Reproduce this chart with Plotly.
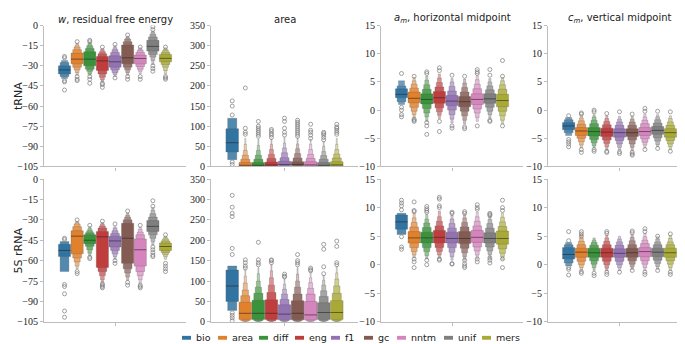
import plotly.graph_objects as go

METHODS = ["bio", "area", "diff", "eng", "f1", "gc", "nntm", "unif", "mers"]
COLORS = ["#3274a1", "#e1812c", "#3a923a", "#c03d3e", "#9372b2",
          "#845b53", "#d684bd", "#7f7f7f", "#a9aa35"]
ROW_LABELS = ["tRNA", "5S rRNA"]
COL_TITLES = ["<i>w</i>, residual free energy", "area",
              "<i>a</i><sub><i>m</i></sub>, horizontal midpoint",
              "<i>c</i><sub><i>m</i></sub>, vertical midpoint"]
Y_RANGES = [[-105, 0], [0, 350], [-10, 15], [-10, 15]]
Y_DTICK = [15, 50, 5, 5]

# ---------------- tRNA: w ----------------
W_TRNA_MED = [-33, -25, -25, -26.3, -27, -24, -24.5, -15.5, -24.4]
W_TRNA_LO = [[-36, -38, -39.5], [-28.5, -31, -33, -35, -37], [-30, -32.5, -34, -36, -37],
             [-33.5, -36, -38.5, -40.5, -42], [-31, -33, -35, -36.5, -38], [-28.5, -31, -33, -35, -37],
             [-28.5, -30.5, -32.5, -34, -36], [-19, -21.5, -23.5, -26, -29], [-27, -29, -31, -33.5, -36]]
W_TRNA_HI = [[-30, -27.5, -26], [-20.5, -18, -16, -14.5, -13], [-19.5, -17, -15, -13.5, -12.5],
             [-23, -21, -19.5, -18, -17], [-22.5, -20, -18, -16.5, -15], [-14.5, -12, -10, -9, -8],
             [-22, -20, -18.5, -17.5, -16.5], [-11, -8.5, -6.5, -5, -4], [-21.5, -20, -18.5, -17.5, -16.5]]
W_TRNA_OUT = [[-23, -24, -41, -42, -48], [-12, -38, -40, -41], [-11, -12, -38, -40, -43],
              [-16, -43, -44, -46], [-14, -39], [-7, -38, -40], [-16, -38, -40],
              [-1, -3, -30, -32, -34], [-16, -38, -39, -40]]

# ---------------- tRNA: area ----------------
AREA_TRNA_MED = [59, 3, 3, 4, 5, 5, 4, 3, 4]
AREA_TRNA_LO = [[36, 17], [1, 0.5, 0.2, 0, 0, 0], [1, 0.5, 0.2, 0, 0, 0], [1, 0.5, 0.2, 0, 0, 0],
                [2, 1, 0.4, 0, 0, 0], [2, 1, 0.4, 0, 0, 0], [1.5, 0.7, 0.3, 0, 0, 0],
                [1, 0.5, 0.2, 0, 0, 0], [1.5, 0.7, 0.3, 0, 0, 0]]
AREA_TRNA_HI = [[94, 120], [10, 18, 28, 40, 55, 70], [10, 18, 28, 40, 52, 68], [11, 20, 30, 42, 55, 68],
                [13, 22, 34, 46, 58, 72], [12, 21, 32, 44, 56, 70], [12, 20, 30, 42, 55, 68],
                [10, 18, 27, 37, 50, 62], [12, 21, 31, 42, 55, 70]]
AREA_TRNA_OUT = [[163, 150, 128, 11, 5], [80, 85, 95, 195], [75, 80, 85, 90, 95, 100, 112],
                 [72, 78, 82, 88, 92], [78, 85, 95, 112, 120], [75, 80, 85, 90, 95, 100, 105, 110, 115],
                 [70, 78, 85, 90, 105], [66, 72, 78, 82, 85], [80, 85, 90, 95, 98, 105]]

# ---------------- tRNA: a_m ----------------
AM_TRNA_MED = [2.8, 2.1, 1.9, 2.2, 1.6, 1.5, 1.9, 2.0, 1.7]
AM_TRNA_LO = [[2.2, 1.5, 1.0], [1.3, 0.5, -0.2, -0.8, -1.3], [1.1, 0.3, -0.5, -1.2, -2],
              [1.2, 0.4, -0.3, -0.9, -1.5], [0.8, 0, -0.8, -1.6, -2.3], [0.6, -0.2, -1, -1.8, -2.5],
              [1, 0.2, -0.5, -1.3, -2], [1.2, 0.5, -0.2, -0.8, -1.4], [0.6, -0.2, -1, -1.8, -2.4]]
AM_TRNA_HI = [[3.8, 4.3, 5.2], [3.2, 3.9, 4.6, 5.2, 5.8], [2.9, 3.7, 4.5, 5.3, 6],
              [3.3, 4.1, 4.9, 5.7, 6.4], [2.6, 3.4, 4.2, 5, 5.6], [2.4, 3.2, 4, 4.8, 5.5],
              [2.9, 3.8, 4.6, 5.4, 6.1], [2.9, 3.6, 4.3, 5, 5.6], [2.8, 3.7, 4.5, 5.2, 5.8]]
AM_TRNA_OUT = [[6.5, 0.5, 0, -0.8, -1.2], [6, -1.6, -1.8, -2], [6.5, 6.8, -2.2, -2.8, -4.3],
               [7, 7.5, -2, -3.8], [6.2, -2.8, -3.2], [6, -3, -3.3], [7.2, 6.8, 6.5, -2.8],
               [7.2, 6.2, -1.8, -2], [8.8, 6, -2.8]]

# ---------------- tRNA: c_m ----------------
CM_TRNA_MED = [-2.8, -3.7, -3.8, -3.9, -4.0, -4.0, -3.8, -3.6, -4.0]
CM_TRNA_LO = [[-3.5, -4, -4.5], [-4.5, -5, -5.6, -6.2, -6.7], [-4.6, -5.2, -5.8, -6.3, -6.7],
              [-4.7, -5.3, -5.9, -6.5, -7], [-4.8, -5.4, -6, -6.6, -7.1], [-4.7, -5.3, -6, -6.6, -7.2],
              [-4.5, -5.1, -5.7, -6.2, -6.7], [-4.3, -4.9, -5.5, -6.1, -6.5], [-4.8, -5.4, -6, -6.5, -7]]
CM_TRNA_HI = [[-2.2, -1.7, -1.3], [-3.1, -2.5, -1.9, -1.4, -1], [-3.1, -2.4, -1.8, -1.2, -0.8],
              [-3.2, -2.6, -2, -1.5, -1], [-3.3, -2.7, -2.1, -1.6, -1.1], [-3.3, -2.7, -2.1, -1.6, -1.1],
              [-3.1, -2.4, -1.8, -1.2, -0.7], [-2.9, -2.3, -1.7, -1.2, -0.8], [-3.3, -2.7, -2.1, -1.5, -1]]
CM_TRNA_OUT = [[-1, -5.2, -5.6, -6, -6.5], [-0.5, -0.7, -7, -7.5], [0, -0.3, -7, -7.3],
               [-0.6, -7.3, -7.5], [-0.3, -7.4, -7.7], [-0.7, -7.5, -7.8, -8], [0.3, -0.2, -7],
               [-0.2, -6.8], [-0.3, -7.3]]

# ---------------- 5S rRNA: w ----------------
W_5S_MED = [-52.5, -42, -45, -42.5, -45.5, -43.5, -52, -34.8, -49.6]
W_5S_LO = [[-57, -68], [-55, -58, -61, -64, -66], [-47.5, -49.5, -52, -54.5, -56.5],
           [-65, -68, -71, -74, -76], [-50, -52.5, -55, -57, -59], [-62, -66, -69, -72, -74.5],
           [-64, -68, -71, -74, -76.5], [-38.5, -41, -43.5, -46, -48.5], [-52.5, -54, -55.5, -57, -59]]
W_5S_HI = [[-48, -46], [-38, -35, -33, -32, -31], [-41, -39.5, -38, -36.5, -35],
           [-38.5, -36, -34.5, -33, -32], [-42, -40, -38, -36, -35], [-32.5, -30, -28, -26.5, -25],
           [-44, -41, -39, -37, -35.5], [-30.5, -28, -25.5, -23, -21], [-47, -45.5, -44, -43, -42]]
W_5S_OUT = [[-43.5, -44.5, -77.5, -79, -84.4, -97, -101.6], [-30, -68, -69.5], [-34, -57.5, -58.5],
            [-31, -77, -78, -79, -80], [-33, -60, -62], [-23.5, -76, -78], [-34, -78, -79, -80],
            [-16, -20, -50, -52, -54, -56, -57], [-41, -62, -64, -66, -68]]

# ---------------- 5S rRNA: area ----------------
AREA_5S_MED = [88, 21, 21, 21, 19, 21, 17, 23, 23]
AREA_5S_LO = [[50, 28], [6, 3, 1.5, 0.8, 0.3, 0], [6, 3, 1.5, 0.8, 0.3, 0], [6, 3, 1.5, 0.8, 0.3, 0],
              [5, 2.5, 1.2, 0.6, 0.3, 0], [5, 2.5, 1.2, 0.6, 0.3, 0], [5, 2.5, 1.2, 0.6, 0.3, 0],
              [6, 3, 1.5, 0.8, 0.3, 0], [6, 3, 1.5, 0.8, 0.3, 0]]
AREA_5S_HI = [[127, 137], [48, 64, 78, 95, 112, 128], [53, 70, 85, 100, 118, 133],
              [54, 72, 90, 108, 125, 140], [42, 55, 68, 80, 92, 104], [52, 68, 85, 100, 117, 133],
              [50, 68, 82, 96, 108, 120], [47, 62, 76, 90, 102, 114], [52, 70, 88, 105, 120, 135]]
AREA_5S_OUT = [[310, 281, 266, 258, 180, 165, 22, 16, 10, 3], [132, 137, 145, 152], [140, 145, 152, 195],
               [145, 150, 152], [110, 112, 117], [140, 145, 150, 165], [125, 128, 132],
               [118, 135, 178, 190], [140, 145, 185, 198]]

# ---------------- 5S rRNA: a_m ----------------
AM_5S_MED = [7.5, 4.7, 4.7, 4.8, 4.6, 4.6, 4.8, 4.6, 4.6]
AM_5S_LO = [[6.2, 5.3], [3.8, 3, 2.3, 1.7, 1.2], [3.8, 3, 2.3, 1.6, 1], [3.8, 3, 2.3, 1.7, 1.2],
            [3.8, 3, 2.2, 1.4, 0.8], [3.7, 2.9, 2.1, 1.4, 0.8], [3.9, 3.1, 2.4, 1.7, 1.1],
            [3.8, 3.1, 2.4, 1.8, 1.2], [3.6, 2.8, 2, 1.4, 0.9]]
AM_5S_HI = [[8.7, 9.0], [5.8, 6.6, 7.4, 8.2, 9], [5.7, 6.5, 7.3, 8, 8.8], [6, 6.8, 7.6, 8.4, 9.4],
            [5.7, 6.4, 7.2, 8, 8.7], [5.8, 6.6, 7.4, 8.2, 8.8], [6, 6.8, 7.6, 8.4, 9.2],
            [5.6, 6.4, 7.2, 7.9, 8.5], [5.9, 6.7, 7.5, 8.3, 9]]
AM_5S_OUT = [[11.3, 10.8, 10.3, 9.6, 4.9, 3.1, 2.7], [11, 9.5, 9.3, 1, 0.5, -0.5],
             [10.2, 9.8, 9.5, 9.2, 0.8, 0], [11.8, 11.5, 10.3, 10, 1, 0.8], [9.2, 9, 0.2, 0.1],
             [9.3, 9, 0.8, 0.2, -0.2, -0.5], [10.5, 10, 9.7, 1, 0.5], [9, 8.8, 8.6, 1.2, 0.8, 0.3],
             [11.3, 10, 9.5, 1, -0.5]]

# ---------------- 5S rRNA: c_m ----------------
CM_5S_MED = [1.8, 2.2, 2.1, 2.1, 2.0, 2.1, 2.3, 2.2, 2.1]
CM_5S_LO = [[1, 0.3, -0.2], [1.3, 0.6, 0, -0.5, -1], [1.3, 0.7, 0.1, -0.5, -1], [1.3, 0.6, 0, -0.6, -1.1],
            [1.3, 0.6, 0, -0.5, -1], [1.3, 0.7, 0.1, -0.4, -0.8], [1.4, 0.7, 0.1, -0.5, -1],
            [1.4, 0.8, 0.2, -0.3, -0.8], [1.3, 0.7, 0.1, -0.5, -1]]
CM_5S_HI = [[3, 3.5, 3.9], [2.9, 3.5, 4.1, 4.7, 5.2], [2.9, 3.4, 3.9, 4.3, 4.7], [2.9, 3.5, 4.1, 4.7, 5.2],
            [2.8, 3.4, 4, 4.5, 5], [2.9, 3.5, 4.2, 4.8, 5.3], [3, 3.7, 4.3, 4.9, 5.5],
            [2.9, 3.5, 4, 4.5, 4.9], [2.9, 3.5, 4, 4.6, 5.1]]
CM_5S_OUT = [[5.8, 4.2, -0.5, -0.8, -1.8], [5.8, 5.4, 5, -1.2, -1.5], [-1.5, -1.9],
             [5.8, 5.5, -1.3, -1.7], [-1.3], [5.9, 5.6, -1], [6.3, 5.8, -1.3, -1.7], [5, -1],
             [5.4, -1.3, -1.7]]

PANELS = [
    [(W_TRNA_MED, W_TRNA_LO, W_TRNA_HI, W_TRNA_OUT),
     (AREA_TRNA_MED, AREA_TRNA_LO, AREA_TRNA_HI, AREA_TRNA_OUT),
     (AM_TRNA_MED, AM_TRNA_LO, AM_TRNA_HI, AM_TRNA_OUT),
     (CM_TRNA_MED, CM_TRNA_LO, CM_TRNA_HI, CM_TRNA_OUT)],
    [(W_5S_MED, W_5S_LO, W_5S_HI, W_5S_OUT),
     (AREA_5S_MED, AREA_5S_LO, AREA_5S_HI, AREA_5S_OUT),
     (AM_5S_MED, AM_5S_LO, AM_5S_HI, AM_5S_OUT),
     (CM_5S_MED, CM_5S_LO, CM_5S_HI, CM_5S_OUT)],
]

# ---------------- layout / style ----------------
W, H = 685, 344
COL_PX = [(36, 178), (203, 350), (373, 515), (540, 683)]
ROW_PX = [(12, 158), (171, 319)]
LEVEL_WIDTH = [1.0, 0.72, 0.5, 0.32, 0.18, 0.08]
LEVEL_LIGHT = [0.0, 0.15, 0.3, 0.45, 0.6, 0.72]
GROUP_W = 0.8
N = len(METHODS)
SLOT = GROUP_W / N
BOX_W = SLOT * 0.97
POS = [-GROUP_W / 2 + SLOT * (i + 0.5) for i in range(N)]
AXIS_COLOR = "#bdbdbd"
SERIF = "Liberation Serif"
SANS = "DejaVu Sans"
LEGEND_SWATCH_X = [174, 210, 251, 287, 323, 356, 389, 436, 474]
LEGEND_Y = 335.5
SWATCH_W, SWATCH_H = 9, 4


def lighten(hexc, t):
    r, g, b = int(hexc[1:3], 16), int(hexc[3:5], 16), int(hexc[5:7], 16)
    r = round(r + (255 - r) * t)
    g = round(g + (255 - g) * t)
    b = round(b + (255 - b) * t)
    return f"rgb({r},{g},{b})"


fig = go.Figure()
layout = {}
annotations = []
shapes = []

for r in range(2):
    for c in range(4):
        k = r * 4 + c + 1
        xs = "x" if k == 1 else f"x{k}"
        ys = "y" if k == 1 else f"y{k}"
        x0, x1 = COL_PX[c]
        y0, y1 = ROW_PX[r]
        layout["xaxis" if k == 1 else f"xaxis{k}"] = dict(
            domain=[x0 / W, x1 / W], anchor=ys, range=[-0.5, 0.5],
            showline=True, linecolor=AXIS_COLOR, linewidth=1.2,
            showgrid=False, zeroline=False, tickvals=[0], showticklabels=False,
            ticks="outside", ticklen=3, tickcolor=AXIS_COLOR, fixedrange=True)
        layout["yaxis" if k == 1 else f"yaxis{k}"] = dict(
            domain=[1 - y1 / H, 1 - y0 / H], anchor=xs, range=Y_RANGES[c],
            dtick=Y_DTICK[c], tick0=0,
            showline=True, linecolor=AXIS_COLOR, linewidth=1.2,
            showgrid=False, zeroline=False, ticks="outside", ticklen=3,
            tickcolor=AXIS_COLOR, tickfont=dict(family=SERIF, size=10, color="#222"),
            fixedrange=True)

        med, lo, hi, out = PANELS[r][c]
        nlev = max(len(l) for l in lo)
        for j in reversed(range(nlev)):
            bx, bb, by, bc = [], [], [], []
            for i in range(N):
                if len(lo[i]) > j:
                    bx.append(POS[i])
                    bb.append(lo[i][j])
                    by.append(hi[i][j] - lo[i][j])
                    bc.append(lighten(COLORS[i], LEVEL_LIGHT[j]))
            fig.add_trace(go.Bar(
                x=bx, y=by, base=bb, width=BOX_W * LEVEL_WIDTH[j],
                marker=dict(color=bc, line=dict(color="rgba(90,90,90,0.45)", width=0.6)),
                xaxis=xs, yaxis=ys, showlegend=False, hoverinfo="skip"))
        # medians
        mx, my = [], []
        for i in range(N):
            mx += [POS[i] - BOX_W / 2, POS[i] + BOX_W / 2, None]
            my += [med[i], med[i], None]
        fig.add_trace(go.Scatter(x=mx, y=my, mode="lines",
                                 line=dict(color="rgba(40,40,40,0.6)", width=1),
                                 xaxis=xs, yaxis=ys, showlegend=False, hoverinfo="skip"))
        # outliers
        ox, oy = [], []
        for i in range(N):
            ox += [POS[i]] * len(out[i])
            oy += out[i]
        fig.add_trace(go.Scatter(x=ox, y=oy, mode="markers",
                                 marker=dict(symbol="circle-open", size=4,
                                             color="#7a7a7a", line=dict(width=0.7)),
                                 xaxis=xs, yaxis=ys, showlegend=False, hoverinfo="skip"))

# column titles
for c in range(4):
    x0, x1 = COL_PX[c]
    annotations.append(dict(text=COL_TITLES[c], x=(x0 + x1) / 2 / W, y=1 - ROW_PX[0][0] / H,
                            xref="paper", yref="paper", xanchor="center", yanchor="bottom",
                            showarrow=False, yshift=-1,
                            font=dict(family=SANS, size=10, color="#222")))
# row labels
for r in range(2):
    y0, y1 = ROW_PX[r]
    annotations.append(dict(text=ROW_LABELS[r], x=10 / W, y=1 - (y0 + y1) / 2 / H,
                            xref="paper", yref="paper", xanchor="center", yanchor="middle",
                            textangle=-90, showarrow=False,
                            font=dict(family=SANS, size=11, color="#222")))

# legend (swatch + label)
for i, m in enumerate(METHODS):
    sx = LEGEND_SWATCH_X[i]
    shapes.append(dict(type="rect", xref="paper", yref="paper",
                       x0=sx / W, x1=(sx + SWATCH_W) / W,
                       y0=(H - LEGEND_Y - SWATCH_H / 2) / H, y1=(H - LEGEND_Y + SWATCH_H / 2) / H,
                       fillcolor=COLORS[i], line=dict(width=0)))
    annotations.append(dict(text=m, x=(sx + SWATCH_W + 4) / W, y=(H - LEGEND_Y) / H,
                            xref="paper", yref="paper", xanchor="left", yanchor="middle",
                            showarrow=False, borderpad=0,
                            font=dict(family=SANS, size=9.5, color="#222")))

fig.update_layout(
    width=W, height=H, margin=dict(l=0, r=0, t=0, b=0),
    paper_bgcolor="white", plot_bgcolor="white", showlegend=False,
    barmode="overlay", annotations=annotations, shapes=shapes,
    **layout)

fig.write_html("out.html")
